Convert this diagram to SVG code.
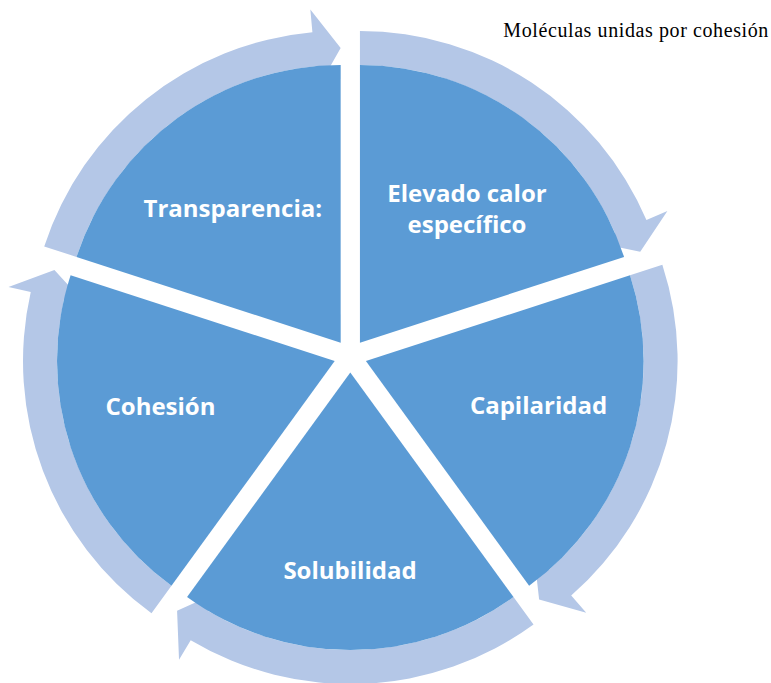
<svg xmlns="http://www.w3.org/2000/svg" width="771" height="683" viewBox="0 0 771 683">
<style>
.slice{fill:#5B9BD5;}
.arrow{fill:#B4C7E7;}
.lbl{font-family:"Open Sans","Noto Sans","DejaVu Sans",sans-serif;font-weight:700;font-size:24px;fill:#FFFFFF;text-anchor:middle;}
.note{font-family:"Liberation Serif","Times New Roman",serif;font-size:20px;fill:#000000;}
</style>
<rect x="0" y="0" width="771" height="683" fill="#FFFFFF"/>
<g id="connectors">
<path class="arrow" d="M359.94,31.03 A311.7,311.7 0 0 1 646.44,219.94 L667.39,210.96 L640.22,251.66 L594.32,242.28 L615.19,233.33 A277.7,277.7 0 0 0 359.94,65.03 Z"/>
<path class="arrow" d="M662.35,264.75 A311.7,311.7 0 0 1 571.21,595.60 L586.23,612.75 L539.12,599.49 L533.87,552.93 L548.82,570.01 A277.7,277.7 0 0 0 630.01,275.25 Z"/>
<path class="arrow" d="M533.51,624.57 A311.7,311.7 0 0 1 190.70,640.14 L179.02,659.72 L177.08,610.82 L219.73,591.43 L208.11,610.93 A277.7,277.7 0 0 0 513.53,597.06 Z"/>
<path class="arrow" d="M151.49,613.24 A311.7,311.7 0 0 1 30.75,292.01 L8.51,286.96 L54.42,270.00 L86.04,304.57 L63.90,299.55 A277.7,277.7 0 0 0 171.47,585.73 Z"/>
<path class="arrow" d="M44.21,246.41 A311.7,311.7 0 0 1 312.41,32.31 L310.34,9.61 L340.66,48.03 L317.55,88.78 L315.49,66.17 A277.7,277.7 0 0 0 76.55,256.91 Z"/>
</g>
<g id="node-elevado">
<path class="slice" d="M359.94,342.73 L359.94,65.03 A277.7,277.7 0 0 1 624.05,256.91 Z"/>
<text class="lbl" x="467" y="201.5">Elevado calor</text>
<text class="lbl" x="467" y="233">específico</text>
</g>
<g id="node-capilaridad">
<path class="slice" d="M365.90,361.07 L630.01,275.25 A277.7,277.7 0 0 1 529.13,585.73 Z"/>
<text class="lbl" x="538.5" y="413.5">Capilaridad</text>
</g>
<g id="node-solubilidad">
<path class="slice" d="M350.3,372.4 L513.53,597.06 A277.7,277.7 0 0 1 187.07,597.06 Z"/>
<text class="lbl" x="350" y="578.5">Solubilidad</text>
</g>
<g id="node-cohesion">
<path class="slice" d="M334.70,361.07 L171.47,585.73 A277.7,277.7 0 0 1 70.59,275.25 Z"/>
<text class="lbl" x="160.5" y="415">Cohesión</text>
</g>
<g id="node-transparencia">
<path class="slice" d="M340.66,342.73 L76.55,256.91 A277.7,277.7 0 0 1 340.66,65.03 Z"/>
<text class="lbl" x="232.8" y="217.3">Transparencia:</text>
</g>
<g id="note">
<text class="note" x="503.3" y="37.3" textLength="265" lengthAdjust="spacing">Moléculas unidas por cohesión</text>
</g>
</svg>
